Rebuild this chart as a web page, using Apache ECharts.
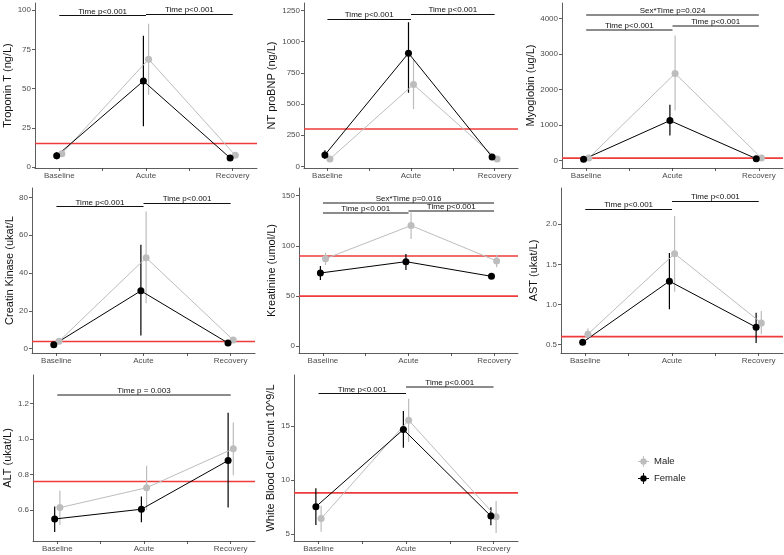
<!DOCTYPE html>
<html>
<head>
<meta charset="utf-8">
<title>Biomarkers by sex over time</title>
<script src="https://cdn.jsdelivr.net/npm/echarts@6/dist/echarts.min.js"></script>
<style>
  html, body { margin: 0; padding: 0; background: #fff; }
  #chart { width: 784px; height: 555px; }
</style>
</head>
<body>
<div id="chart"></div>
<script>
  // time points on the x axis
  var timepoints = ['Baseline', 'Acute', 'Recovery'];

  // each row is [mean, lower, upper] for Baseline, Acute, Recovery
  var troponinMale = [[8.5, 7, 10], [68.7, 46, 91.3], [7.5, 6.5, 8.5]];
  var troponinFemale = [[7.2, 5, 9.5], [54.8, 26, 83.6], [5.8, 5, 6.8]];
  var troponinTicks = [0, 25, 50, 75, 100];
  var troponinRef = [15];
  var troponinNotes = [[1, 2, 96.4, 'Time p<0.001'], [2, 3, 97.6, 'Time p<0.001']];

  var bnpMale = [[59, 45, 73], [656, 459, 853], [59, 50, 68]];
  var bnpFemale = [[92, 60, 130], [907, 590, 1155], [76, 65, 87]];
  var bnpTicks = [0, 250, 500, 750, 1000, 1250];
  var bnpRef = [300];
  var bnpNotes = [[1, 2, 1182, 'Time p<0.001'], [2, 3, 1220, 'Time p<0.001']];

  var myoMale = [[75, 55, 95], [2456, 1412, 3529], [75, 60, 90]];
  var myoFemale = [[38, 25, 50], [1129, 706, 1572], [56, 40, 70]];
  var myoTicks = [0, 1000, 2000, 3000, 4000];
  var myoRef = [72];
  var myoNotes = [[1, 3, 4103, 'Sex*Time p=0.024'], [1, 2, 3689, 'Time p<0.001'], [2, 3, 3812, 'Time p<0.001']];

  var ckMale = [[3.9, 3, 4.8], [48.1, 24, 72.6], [4.6, 3.8, 5.4]];
  var ckFemale = [[2.1, 1.5, 2.7], [30.6, 6.9, 55], [3.0, 2.3, 3.7]];
  var ckTicks = [0, 20, 40, 60, 80];
  var ckRef = [3.8];
  var ckNotes = [[1, 2, 75.2, 'Time p<0.001'], [2, 3, 77, 'Time p<0.001']];

  var creaMale = [[87.3, 81, 93.3], [120.3, 107, 133.3], [85, 78.7, 91.3]];
  var creaFemale = [[73, 66, 80], [84.3, 76, 92], [69.7, 67.5, 72]];
  var creaTicks = [0, 50, 100, 150];
  var creaRef = [90, 50];
  var creaNotes = [[1, 3, 142.7, 'Sex*Time p=0.016'], [1, 2, 133.3, 'Time p<0.001'], [2, 3, 135, 'Time p<0.001']];

  var astMale = [[0.63, 0.56, 0.70], [1.633, 1.16, 2.10], [0.77, 0.63, 0.92]];
  var astFemale = [[0.529, 0.50, 0.56], [1.29, 0.94, 1.64], [0.717, 0.52, 0.896]];
  var astTicks = [0.5, 1.0, 1.5, 2.0];
  var astRef = [0.6];
  var astNotes = [[1, 2, 2.19, 'Time p<0.001'], [2, 3, 2.29, 'Time p<0.001']];

  var altMale = [[0.613, 0.515, 0.708], [0.725, 0.6, 0.849], [0.945, 0.796, 1.093]];
  var altFemale = [[0.549, 0.475, 0.619], [0.604, 0.53, 0.675], [0.878, 0.613, 1.148]];
  var altTicks = [0.6, 0.8, 1.0, 1.2];
  var altRef = [0.76];
  var altNotes = [[1, 3, 1.25, 'Time p = 0.003']];

  var wbcMale = [[6.42, 5.2, 7.6], [15.52, 13.5, 17.5], [6.6, 5.1, 8.05]];
  var wbcFemale = [[7.52, 5.83, 9.22], [14.66, 12.97, 16.38], [6.66, 5.8, 7.46]];
  var wbcTicks = [5, 10, 15];
  var wbcRef = [8.8];
  var wbcNotes = [[1, 2, 18.0, 'Time p<0.001'], [2, 3, 18.6, 'Time p<0.001']];

  var font = "'Liberation Sans', Arial, sans-serif";
  var maleColor = '#bdbdbd';
  var femaleColor = '#000000';
  var refColor = '#ee3b3b';
  var dodge = 0.03;
  var xMin = 0.72, xMax = 3.28;

  // one entry per facet: box = [left, top, width, height]
  var panels = [
    {name: 'Troponin T (ng/L)', male: troponinMale, female: troponinFemale, ticks: troponinTicks, refs: troponinRef, notes: troponinNotes,
     min: -0.6, max: 104.5, dec: 0, box: [35, 3, 222, 165], gap: 16, noteColors: ['#111', '#111']},
    {name: 'NT proBNP (ng/L)', male: bnpMale, female: bnpFemale, ticks: bnpTicks, refs: bnpRef, notes: bnpNotes,
     min: -13, max: 1309, dec: 0, box: [304, 3, 214, 165], gap: 27, noteColors: ['#111', '#111']},
    {name: 'Myoglobin (ug/L)', male: myoMale, female: myoFemale, ticks: myoTicks, refs: myoRef, notes: myoNotes,
     min: -207, max: 4442, dec: 0, box: [562, 3, 221, 165], gap: 21, noteColors: ['#666', '#666', '#666']},
    {name: 'Creatin Kinase (ukat/L', male: ckMale, female: ckFemale, ticks: ckTicks, refs: ckRef, notes: ckNotes,
     min: -2.3, max: 85, dec: 0, box: [32, 188, 223, 165], gap: 11, noteColors: ['#111', '#111']},
    {name: 'Kreatinine (umol/L)', male: creaMale, female: creaFemale, ticks: creaTicks, refs: creaRef, notes: creaNotes,
     min: -6.7, max: 157.7, dec: 0, box: [299, 188, 219, 165], gap: 21, noteColors: ['#666', '#666', '#666']},
    {name: 'AST (ukat/L)', male: astMale, female: astFemale, ticks: astTicks, refs: astRef, notes: astNotes,
     min: 0.396, max: 2.45, dec: 1, box: [561, 188, 222, 165], gap: 22, noteColors: ['#111', '#111']},
    {name: 'ALT (ukat/L)', male: altMale, female: altFemale, ticks: altTicks, refs: altRef, notes: altNotes,
     min: 0.425, max: 1.36, dec: 1, box: [33, 375, 222, 166], gap: 20, noteColors: ['#666']},
    {name: 'White Blood Cell count 10^9/L', male: wbcMale, female: wbcFemale, ticks: wbcTicks, refs: wbcRef, notes: wbcNotes,
     min: 4.35, max: 19.7, dec: 0, box: [294, 375, 224, 166], gap: 18, noteColors: ['#111', '#666']}
  ];

  // vertical interval from [x, lo, hi] rows
  function errorBars(rows, offset, color, idx, name) {
    return {
      name: name,
      type: 'custom',
      xAxisIndex: idx,
      yAxisIndex: idx,
      silent: true,
      itemStyle: {color: color},
      data: rows.map(function (r, j) { return [j + 1 + offset, r[1], r[2]]; }),
      encode: {x: 0, y: [1, 2]},
      renderItem: function (params, api) {
        var lo = api.coord([api.value(0), api.value(1)]);
        var hi = api.coord([api.value(0), api.value(2)]);
        return {
          type: 'line',
          shape: {x1: lo[0], y1: lo[1], x2: hi[0], y2: hi[1]},
          style: {stroke: color, lineWidth: 1.2}
        };
      }
    };
  }

  // horizontal reference line across the full x range
  function refLine(value, idx) {
    return {
      type: 'custom',
      xAxisIndex: idx,
      yAxisIndex: idx,
      silent: true,
      z: 1,
      itemStyle: {color: refColor},
      data: [[xMin, xMax, value]],
      encode: {x: [0, 1], y: 2},
      renderItem: function (params, api) {
        var a = api.coord([api.value(0), api.value(2)]);
        var b = api.coord([api.value(1), api.value(2)]);
        return {
          type: 'line',
          shape: {x1: a[0], y1: a[1], x2: b[0], y2: b[1]},
          style: {stroke: refColor, lineWidth: 1.6}
        };
      }
    };
  }

  function meanLine(rows, offset, color, idx, name) {
    return {
      name: name,
      type: 'line',
      xAxisIndex: idx,
      yAxisIndex: idx,
      silent: true,
      data: rows.map(function (r, j) { return [j + 1 + offset, r[0]]; }),
      symbol: 'circle',
      symbolSize: 7,
      itemStyle: {color: color},
      lineStyle: {color: color, width: 1}
    };
  }

  var grids = [], xAxes = [], yAxes = [], series = [];
  var axisColor = '#333';

  panels.forEach(function (p, i) {
    grids.push({left: p.box[0], top: p.box[1], width: p.box[2], height: p.box[3],
                containLabel: false, outerBoundsMode: 'none'});

    xAxes.push({
      gridIndex: i, type: 'value', min: xMin, max: xMax,
      axisLine: {show: true, onZero: false, lineStyle: {color: axisColor, width: 0.8}},
      axisTick: {show: true, customValues: [1, 1.5, 2, 2.5, 3], length: 3, lineStyle: {color: axisColor, width: 0.8}},
      axisLabel: {customValues: [1, 2, 3], formatter: function (v) { return timepoints[Math.round(v) - 1]; },
                  color: '#4d4d4d', fontSize: 8, fontFamily: font, margin: 4},
      splitLine: {show: false}
    });

    yAxes.push({
      gridIndex: i, type: 'value', min: p.min, max: p.max,
      name: p.name, nameLocation: 'middle', nameGap: p.gap,
      nameTextStyle: {fontSize: 11, color: '#111', fontFamily: font},
      axisLine: {show: true, onZero: false, lineStyle: {color: axisColor, width: 0.8}},
      axisTick: {show: true, customValues: p.ticks, length: 3, lineStyle: {color: axisColor, width: 0.8}},
      axisLabel: {customValues: p.ticks, formatter: function (v) { return v.toFixed(p.dec); },
                  color: '#4d4d4d', fontSize: 8, fontFamily: font, margin: 4},
      splitLine: {show: false}
    });

    p.refs.forEach(function (v) { series.push(refLine(v, i)); });

    // significance brackets
    p.notes.forEach(function (n, k) {
      var c = p.noteColors[k];
      series.push({
        type: 'line', xAxisIndex: i, yAxisIndex: i, data: [], silent: true,
        color: c,
        markLine: {
          symbol: ['none', 'none'], silent: true, animation: false,
          lineStyle: {color: c, width: c === '#111' ? 1 : 1.6, type: 'solid'},
          label: {show: true, formatter: n[3], position: 'insideMiddleTop', distance: 0,
                  color: '#111', fontSize: 8, fontFamily: font},
          data: [[{coord: [n[0], n[2]], lineStyle: {color: c}}, {coord: [n[1], n[2]]}]]
        }
      });
    });

    series.push(errorBars(p.male, dodge, maleColor, i, 'Male'));
    series.push(meanLine(p.male, dodge, maleColor, i, 'Male'));
    series.push(errorBars(p.female, -dodge, femaleColor, i, 'Female'));
    series.push(meanLine(p.female, -dodge, femaleColor, i, 'Female'));
  });

  var legendIcon = 'path://M0,5.5h12v1h-12z M5.5,0h1v12h-1z M6,2.5a3.5,3.5 0 1,1 0,7a3.5,3.5 0 1,1 0,-7z';

  var chart = echarts.init(document.getElementById('chart'), null, {renderer: 'canvas'});
  chart.setOption({
    animation: false,
    backgroundColor: '#fff',
    textStyle: {fontFamily: font},
    grid: grids,
    xAxis: xAxes,
    yAxis: yAxes,
    legend: {
      data: [
        {name: 'Male', icon: legendIcon, itemStyle: {color: maleColor}},
        {name: 'Female', icon: legendIcon, itemStyle: {color: femaleColor}}
      ],
      orient: 'vertical', left: 633, top: 451,
      itemWidth: 11, itemHeight: 11, itemGap: 6, selectedMode: false,
      textStyle: {fontSize: 9.5, color: '#222', fontFamily: font}
    },
    series: series
  });
</script>
</body>
</html>
